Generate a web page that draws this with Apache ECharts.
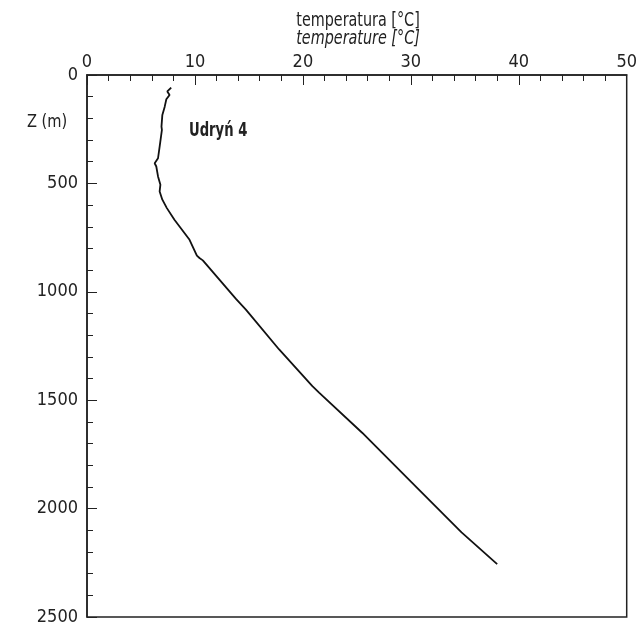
<!DOCTYPE html>
<html>
<head>
<meta charset="UTF-8">
<script src="https://cdn.jsdelivr.net/npm/echarts@6/dist/echarts.min.js"></script>
<style>
  html, body { margin: 0; padding: 0; background: #ffffff; }
  #profile { width: 640px; height: 626px; }
</style>
</head>
<body>
<div id="profile"></div>
<script type="text/javascript">
// Temperature profile, borehole Udryń 4.
const temperature = [7.8, 7.44, 7.65, 7.35, 7.2, 6.98, 6.9, 6.94, 6.73, 6.58, 6.27, 6.42, 6.58, 6.8, 6.73, 6.98, 7.4, 8.1, 9.5, 10.18, 10.42, 10.73, 13.8, 14.72, 17.8, 20.88, 21.5, 25.49, 30.1, 34.7, 38.0];
const depth = [58, 76, 92, 112, 146, 184, 238, 253, 330, 384, 407, 422, 468, 506, 537, 575, 614, 668, 760, 833, 844, 855, 1033, 1082, 1266, 1435, 1465, 1650, 1880, 2110, 2256];
const xTicks = [0, 10, 20, 30, 40, 50];
const yTicks = [0, 500, 1000, 1500, 2000, 2500];
const wellName = 'Udryń 4';
const titlePl = 'temperatura [°C]';
const titleEn = 'temperature [°C]';
const depthLabel = 'Z (m)';

const font = "'DejaVu Sans Condensed', 'Liberation Sans', sans-serif";
const ink = '#222222';

const chart = echarts.init(document.getElementById('profile'), null, { renderer: 'canvas' });

const option = {
    backgroundColor: '#ffffff',
    animation: false,
    grid: {
        left: 87,
        top: 75,
        right: 11,
        bottom: 8,
        show: true,
        borderColor: ink,
        borderWidth: 1.5
    },
    xAxis: {
        type: 'value',
        position: 'top',
        min: xTicks[0],
        max: xTicks[xTicks.length - 1],
        interval: 10,
        axisLine: { show: true, onZero: false, lineStyle: { color: ink, width: 1.5 } },
        axisTick: { show: true, inside: true, length: 10, lineStyle: { color: ink, width: 1 } },
        minorTick: { show: true, splitNumber: 5, length: 6, lineStyle: { color: ink, width: 1 } },
        splitLine: { show: false },
        axisLabel: { color: ink, fontFamily: font, fontSize: 18, margin: 4, formatter: v => String(v) }
    },
    yAxis: {
        type: 'value',
        inverse: true,
        min: yTicks[0],
        max: yTicks[yTicks.length - 1],
        interval: 500,
        axisLine: { show: true, onZero: false, lineStyle: { color: ink, width: 1.5 } },
        axisTick: { show: true, inside: true, length: 10, lineStyle: { color: ink, width: 1 } },
        minorTick: { show: true, splitNumber: 5, length: 6, lineStyle: { color: ink, width: 1 } },
        splitLine: { show: false },
        axisLabel: { color: ink, fontFamily: font, fontSize: 18, margin: 9, formatter: v => String(v) }
    },
    series: [
        {
            name: wellName,
            type: 'line',
            symbol: 'none',
            smooth: false,
            lineStyle: { color: '#111111', width: 1.8 },
            data: temperature.map((t, i) => [t, depth[i]])
        }
    ],
    graphic: [
        {
            type: 'text', x: 358, y: 12, scaleX: 0.84,
            style: { text: titlePl, fill: ink, font: "19px " + font, align: 'center' }
        },
        {
            type: 'text', x: 358, y: 30, scaleX: 0.84,
            style: { text: titleEn, fill: ink, font: "italic 19px " + font, align: 'center' }
        },
        {
            type: 'text', x: 27, y: 113, scaleX: 0.9,
            style: { text: depthLabel, fill: ink, font: "18px " + font }
        },
        {
            type: 'text', x: 189, y: 122, scaleX: 0.77,
            style: { text: wellName, fill: ink, font: "bold 19px " + font }
        }
    ]
};

chart.setOption(option);
</script>
</body>
</html>
